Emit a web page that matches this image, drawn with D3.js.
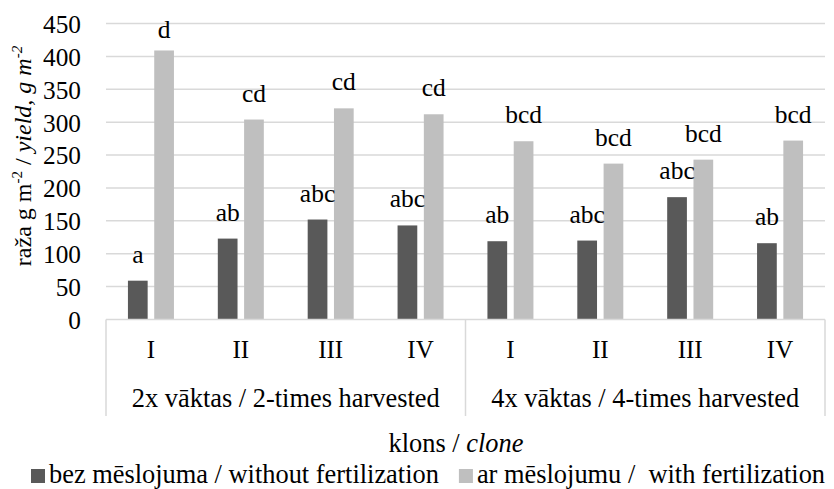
<!DOCTYPE html>
<html>
<head>
<meta charset="utf-8">
<script src="https://cdn.jsdelivr.net/npm/d3@7"></script>
<style>
  body { margin: 0; background: #fff; }
  svg { display: block; font-family: "Liberation Serif", "Times New Roman", serif; }
</style>
</head>
<body>
<svg id="chart" width="834" height="489"></svg>
<script>
// data
var groups = ["2x vāktas / 2-times harvested", "4x vāktas / 4-times harvested"];
var clones = ["I", "II", "III", "IV"];
var seriesNames = ["bez mēslojuma / without fertilization", "ar mēslojumu /  with fertilization"];
var withoutFert = [59, 123, 152, 143, 119, 120, 186, 116];
var withFert = [409, 304, 321, 312, 271, 237, 243, 272];
var lettersWithout = ["a", "ab", "abc", "abc", "ab", "abc", "abc", "ab"];
var lettersWith = ["d", "cd", "cd", "cd", "bcd", "bcd", "bcd", "bcd"];
var yTicks = [0, 50, 100, 150, 200, 250, 300, 350, 400, 450];

var colors = ["#595959", "#bfbfbf"];
var gridColor = "#d9d9d9";

drawChart();

function drawChart(){
  var svg = d3.select("#chart");
  var plotLeft = 106, plotRight = 825, plotTop = 23.5, base = 319.5;

  var cats = [];
  groups.forEach(function(g, gi){
    clones.forEach(function(c){ cats.push(gi + "-" + c); });
  });

  var rows = cats.map(function(k, i){
    return {key: k, clone: clones[i % 4], vals: [
      {s: 0, v: withoutFert[i], l: lettersWithout[i]},
      {s: 1, v: withFert[i], l: lettersWith[i]}
    ]};
  });

  var y = d3.scaleLinear().domain([0, 450]).range([base, plotTop]);
  var x = d3.scaleBand().domain(cats).range([plotLeft, plotRight]);
  var x1 = d3.scaleBand().domain([0, 1]).range([0, 46]).paddingInner(0.25);

  // gridlines
  svg.append("g")
    .selectAll("line")
    .data(yTicks.filter(function(t){ return t > 0; }))
    .enter().append("line")
    .attr("x1", plotLeft).attr("x2", plotRight)
    .attr("y1", function(d){ return y(d); })
    .attr("y2", function(d){ return y(d); })
    .attr("stroke", gridColor).attr("stroke-width", 1.5);

  // y tick labels
  var yAxis = d3.axisLeft(y).tickValues(yTicks).tickSize(0).tickPadding(0);
  var ya = svg.append("g").attr("transform", "translate(81,0)").call(yAxis);
  ya.select(".domain").remove();
  ya.selectAll("text")
    .attr("font-family", "Liberation Serif")
    .attr("font-size", 25.3)
    .attr("fill", "#000")
    .attr("dy", "0.35em");

  // bars
  var cg = svg.append("g").selectAll("g")
    .data(rows).enter().append("g")
    .attr("transform", function(d){ return "translate(" + (x(d.key) + x.bandwidth()/2 - 23) + ",0)"; });

  cg.selectAll("rect")
    .data(function(d){ return d.vals; })
    .enter().append("rect")
    .attr("x", function(d){ return x1(d.s); })
    .attr("width", x1.bandwidth())
    .attr("y", function(d){ return y(d.v); })
    .attr("height", function(d){ return base - y(d.v); })
    .attr("fill", function(d){ return colors[d.s]; });

  cg.selectAll("text")
    .data(function(d){ return d.vals; })
    .enter().append("text")
    .attr("x", function(d){ return x1(d.s) + x1.bandwidth()/2; })
    .attr("y", function(d){ return Math.max(y(d.v) - 18, 38); })
    .attr("text-anchor", "middle")
    .attr("font-size", 25.5)
    .text(function(d){ return d.l; });

  // category axis with group dividers
  var ax = svg.append("g").attr("stroke", gridColor).attr("stroke-width", 1.5);
  ax.append("line").attr("x1", plotLeft).attr("x2", plotRight).attr("y1", base).attr("y2", base);
  [plotLeft, x(cats[4]), plotRight].forEach(function(px){
    ax.append("line").attr("x1", px).attr("x2", px).attr("y1", base).attr("y2", 416);
  });

  svg.append("g").selectAll("text")
    .data(rows).enter().append("text")
    .attr("x", function(d){ return x(d.key) + x.bandwidth()/2; })
    .attr("y", 358)
    .attr("text-anchor", "middle")
    .attr("font-size", 25)
    .text(function(d){ return d.clone; });

  svg.append("g").selectAll("text")
    .data(groups).enter().append("text")
    .attr("x", function(d, i){ return (x(cats[i*4]) + x(cats[i*4+3]) + x.bandwidth())/2; })
    .attr("y", 407)
    .attr("text-anchor", "middle")
    .attr("font-size", 26.4)
    .text(function(d){ return d; });

  // axis titles
  var xt = svg.append("text")
    .attr("x", 456).attr("y", 452)
    .attr("text-anchor", "middle")
    .attr("font-size", 26.4);
  xt.append("tspan").text("klons / ");
  xt.append("tspan").attr("font-style", "italic").text("clone");

  var yt = svg.append("text")
    .attr("transform", "translate(31,156) rotate(-90)")
    .attr("text-anchor", "middle")
    .attr("font-size", 24);
  yt.append("tspan").text("raža g m");
  yt.append("tspan").attr("font-size", 15).attr("dy", -9).text("-2");
  yt.append("tspan").attr("dy", 9).text(" / ");
  yt.append("tspan").attr("font-style", "italic").text("yield, g m");
  yt.append("tspan").attr("font-style", "italic").attr("font-size", 15).attr("dy", -9).text("-2");

  // legend
  var lg = svg.append("g");
  var lx = 31;
  seriesNames.forEach(function(name, i){
    lg.append("rect").attr("x", lx).attr("y", 469).attr("width", 14).attr("height", 14).attr("fill", colors[i]);
    var t = lg.append("text").attr("x", lx + 18).attr("y", 483).attr("font-size", 26.4).attr("xml:space", "preserve").text(name);
    lx += 18 + t.node().getComputedTextLength() + 20;
  });
}
</script>
</body>
</html>
